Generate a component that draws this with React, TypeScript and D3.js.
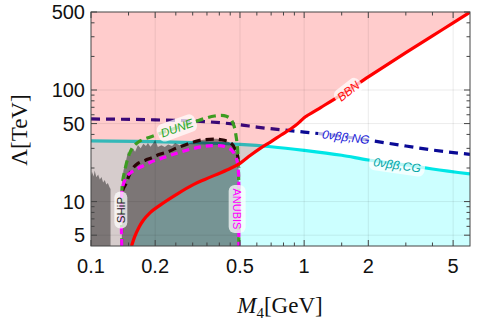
import React from 'react'
import * as d3 from 'd3'

// ticks (log axes)
const xMajor = [0.1, 0.2, 0.5, 1, 2, 5]
const xMinor = [0.15, 0.25, 0.3, 0.35, 0.4, 0.45, 0.6, 0.7, 0.8, 0.9, 1.5, 3, 4]
const yMajor = [5, 10, 50, 100, 500]
const yMinor = [6, 7, 8, 9, 20, 30, 40, 60, 70, 80, 90, 200, 300, 400]

// BBN bound
const bbnM = [0.155, 0.16, 0.168, 0.176, 0.19, 0.211, 0.25, 0.302, 0.342, 0.434, 0.5, 0.56, 0.622, 0.7, 0.78, 0.86, 0.91, 0.96, 1.0, 1.05, 1.2, 1.5, 2, 3, 4, 5, 6]
const bbnL = [4, 4.8, 5.9, 6.8, 8, 9.3, 11.5, 14.2, 15.8, 19.2, 22, 26, 30, 34.5, 39.5, 44.5, 48, 52.5, 56.5, 60, 70, 91, 131, 216, 305, 400, 498]

// 0vbb, CG
const cgM = [0.1, 0.2, 0.3, 0.5, 0.7, 1, 1.5, 2, 3, 4, 6]
const cgL = [35, 34.5, 33.8, 32.5, 31, 28.8, 26, 23.6, 21.3, 19.6, 17.7]

// 0vbb, NG
const ngM = [0.1, 0.2, 0.35, 0.5, 0.6, 1, 1.5, 2, 3, 4, 6]
const ngL = [55, 54, 52, 48.8, 46.5, 42, 38.5, 35.5, 31.5, 29, 26.5]

// DUNE sensitivity
const duneM = [0.1395, 0.1395, 0.141, 0.144, 0.148, 0.153, 0.16, 0.17, 0.19, 0.22, 0.253, 0.3, 0.34, 0.38, 0.42, 0.45, 0.468, 0.48, 0.487, 0.491, 0.4937, 0.4937]
const duneL = [4, 12, 15.5, 19, 23.5, 28, 32, 35, 38, 42, 46, 51, 55.5, 58.5, 59, 55.5, 48, 38, 30, 22, 12, 4]

// SHiP sensitivity
const shipM = [0.1405, 0.143, 0.146, 0.155, 0.166, 0.18, 0.192, 0.21, 0.23, 0.25, 0.276, 0.3, 0.33, 0.38, 0.41, 0.44, 0.46, 0.473, 0.483, 0.49, 0.4937]
const shipL = [12.5, 13.5, 14.5, 19.2, 22, 23.5, 24.6, 26.5, 28, 30, 32.2, 34, 35.6, 36.3, 35.8, 34.5, 32.5, 30, 27.5, 24.5, 20]

// ANUBIS sensitivity
const anubisM = [0.1395, 0.1395, 0.143, 0.149, 0.16, 0.172, 0.19, 0.214, 0.24, 0.266, 0.3, 0.33, 0.37, 0.41, 0.44, 0.456, 0.472, 0.481, 0.488, 0.492, 0.4937, 0.4937]
const anubisL = [4, 12, 15, 17.3, 19.2, 20.5, 22.5, 24.4, 26.3, 28, 29.8, 31, 31.7, 31.6, 30.3, 29, 26.5, 24.4, 21.5, 18, 14, 4]

// excluded regions (grey)
const greyAM = [0.1, 0.1, 0.101, 0.103, 0.104, 0.106, 0.108, 0.11, 0.112, 0.114, 0.116, 0.118, 0.12, 0.122, 0.1235, 0.1235]
const greyAL = [4, 17, 18.5, 16.8, 19, 16.5, 17.5, 15.8, 16.6, 14.8, 15.6, 14.2, 14.7, 13.5, 13, 4]
const greyBM = [0.1395, 0.1395, 0.142, 0.145, 0.149, 0.153, 0.157, 0.161, 0.166, 0.171, 0.176, 0.181, 0.185, 0.19, 0.195, 0.2, 0.206, 0.214, 0.222, 0.23, 0.24, 0.248, 0.26, 0.276, 0.29, 0.308, 0.33, 0.36, 0.39, 0.42, 0.445, 0.468, 0.482, 0.49, 0.4937, 0.4937]
const greyBL = [4, 14, 19, 22, 27.8, 26, 30, 28, 32.2, 30, 33, 31.5, 33.5, 31, 33, 35.6, 30.9, 32, 30.9, 32.5, 31.5, 33.5, 32, 32.2, 33.5, 34.2, 35.6, 36.5, 36.5, 35.5, 34, 31, 27.5, 24, 18, 4]

// curve labels: text, anchor (M, Lambda)
const labelText = ['BBN', '0νββ,NG', '0νββ,CG', 'DUNE', 'SHiP', 'ANUBIS']
const labelM = [1.61, 1.57, 2.73, 0.253, 0.138, 0.485]
const labelL = [98, 38, 21.3, 45.7, 8.4, 8.6]

const labelStyle = [
  {angle: -38, color: '#ff1010', w: 30, h: 16, size: 12, italic: true},
  {angle: 7, color: '#1a1ad8', w: 56, h: 16, size: 12, italic: true},
  {angle: 8, color: '#00a4a4', w: 56, h: 17, size: 12, italic: true},
  {angle: -20, color: '#2aa82a', w: 40, h: 18, size: 12, italic: true},
  {angle: -90, color: '#222', w: 37, h: 13, size: 11.5, italic: false},
  {angle: 90, color: '#ff00ff', w: 48, h: 17, size: 11, italic: false}
]

const W = 478
const H = 328
const x = d3.scaleLog().domain([0.1, 6]).range([91, 470])
const y = d3.scaleLog().domain([4, 500]).range([246, 12])

const pts = (ms: number[], ls: number[]) => ms.map((m, i) => [m, ls[i]] as [number, number])

const smooth = d3.line<[number, number]>().x(d => x(d[0])).y(d => y(d[1])).curve(d3.curveMonotoneX)
const round = d3.line<[number, number]>().x(d => x(d[0])).y(d => y(d[1])).curve(d3.curveCatmullRom.alpha(0.5))
const straight = d3.line<[number, number]>().x(d => x(d[0])).y(d => y(d[1]))

export default function App () {
  const [x0, x1] = x.range()
  const [y0, y1] = y.range()
  const bbnPath = smooth(pts(bbnM, bbnL)) as string
  const pinkPath = `M${x(0.1)},${y(4)}L${bbnPath.slice(1)}L${x(6)},${y(500)}L${x(0.1)},${y(500)}Z`
  const cyanArea = d3.area<[number, number]>().x(d => x(d[0])).y0(y0).y1(d => y(d[1])).curve(d3.curveMonotoneX)(pts(cgM, cgL)) as string
  const sans = '"Liberation Sans", Arial, sans-serif'
  const serif = '"Liberation Serif", "Times New Roman", serif'
  const tick = '#444'

  return (
    <svg width={W} height={H} style={{position: 'absolute', left: 0, top: 0, background: '#fff'}}>
      <defs>
        <clipPath id='plot'>
          <rect x={x0} y={y1} width={x1 - x0} height={y0 - y1} />
        </clipPath>
      </defs>
      <g clipPath='url(#plot)'>
        <rect x={x0} y={y1} width={x1 - x0} height={y0 - y1} fill='#fff' />
        <path d={cyanArea} fill='#ccffff' />
        <path d={smooth(pts(ngM, ngL)) as string} fill='none' stroke='#0a0a96' strokeWidth={3.2} strokeDasharray='9,6' />
        <path d={smooth(pts(cgM, cgL)) as string} fill='none' stroke='#00e6e6' strokeWidth={3.2} />
        <path d={pinkPath} fill='rgb(255,0,0)' fillOpacity={0.2} />
        <path d={straight(pts(greyAM, greyAL)) + 'Z'} fill='#000' fillOpacity={0.42} />
        <path d={straight(pts(greyBM, greyBL)) + 'Z'} fill='#000' fillOpacity={0.42} />
        {xMajor.slice(1).map(v => (
          <line key={'gx' + v} x1={x(v)} x2={x(v)} y1={y1} y2={y0} stroke='#000' strokeOpacity={0.08} />
        ))}
        {yMajor.slice(0, -1).map(v => (
          <line key={'gy' + v} x1={x0} x2={x1} y1={y(v)} y2={y(v)} stroke='#000' strokeOpacity={0.08} />
        ))}
        <path d={round(pts(shipM, shipL)) as string} fill='none' stroke='#2a0606' strokeWidth={3.2} strokeDasharray='8,5' />
        <path d={round(pts(duneM, duneL)) as string} fill='none' stroke='#3c9c20' strokeWidth={3.2} strokeDasharray='8,5' />
        <path d={round(pts(anubisM, anubisL)) as string} fill='none' stroke='#ff00ff' strokeWidth={3.2} strokeDasharray='7,5' />
        <path d={bbnPath} fill='none' stroke='#ff0000' strokeWidth={3.2} />
        {labelText.map((t, i) => {
          const s = labelStyle[i]
          return (
            <g key={t} transform={`translate(${x(labelM[i])},${y(labelL[i])}) rotate(${s.angle})`}>
              <rect x={-s.w / 2} y={-s.h / 2} width={s.w} height={s.h} rx={6} fill='#fff' fillOpacity={0.72} />
              <text textAnchor='middle' dy='0.36em' fill={s.color} fontFamily={sans} fontSize={s.size}
                fontStyle={s.italic ? 'italic' : 'normal'}>{t}</text>
            </g>
          )
        })}
      </g>
      <rect x={x0} y={y1} width={x1 - x0} height={y0 - y1} fill='none' stroke={tick} strokeWidth={1} />
      {xMajor.concat(xMinor).map(v => {
        const len = xMajor.includes(v) ? 6 : 3.5
        return (
          <g key={'tx' + v} stroke={tick}>
            <line x1={x(v)} x2={x(v)} y1={y0} y2={y0 - len} />
            <line x1={x(v)} x2={x(v)} y1={y1} y2={y1 + len} />
          </g>
        )
      })}
      {yMajor.concat(yMinor).map(v => {
        const len = yMajor.includes(v) ? 6 : 3.5
        return (
          <g key={'ty' + v} stroke={tick}>
            <line x1={x0} x2={x0 + len} y1={y(v)} y2={y(v)} />
            <line x1={x1} x2={x1 - len} y1={y(v)} y2={y(v)} />
          </g>
        )
      })}
      {xMajor.map(v => (
        <text key={'lx' + v} x={x(v)} y={273} textAnchor='middle' fontFamily={sans} fontSize={20} fill='#111'>{v}</text>
      ))}
      {yMajor.map(v => (
        <text key={'ly' + v} x={85} y={y(v) + 7} textAnchor='end' fontFamily={sans} fontSize={20} fill='#111'>{v}</text>
      ))}
      <text x={280} y={313} textAnchor='middle' fontFamily={serif} fontSize={23} fill='#111'>
        <tspan fontStyle='italic'>M</tspan>
        <tspan fontSize={15} dy={5}>4</tspan>
        <tspan dy={-5}>[GeV]</tspan>
      </text>
      <text transform='translate(27,130) rotate(-90)' textAnchor='middle' fontFamily={serif} fontSize={23} fill='#111'>Λ[TeV]</text>
    </svg>
  )
}
